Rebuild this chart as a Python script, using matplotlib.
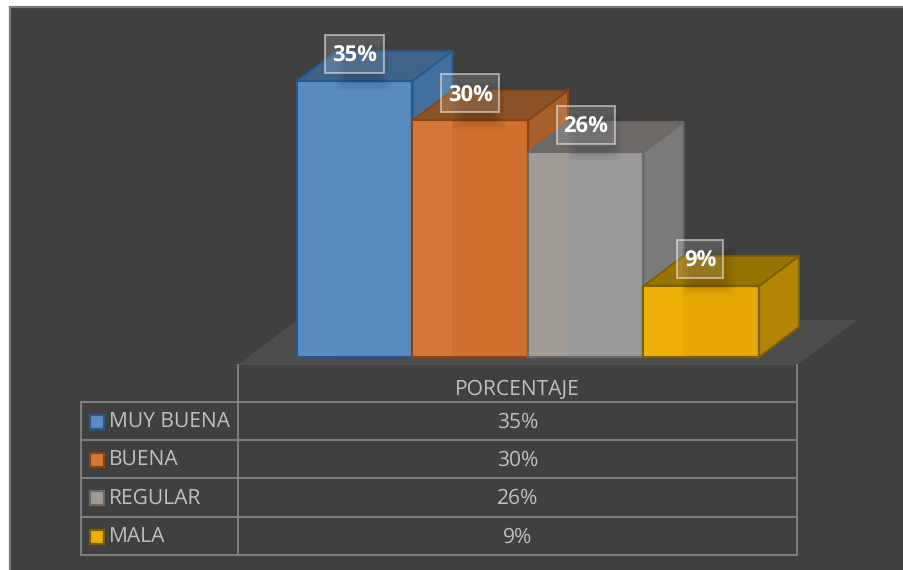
import matplotlib
matplotlib.use("Agg")
import matplotlib.pyplot as plt
from matplotlib.patches import Polygon, Rectangle

plt.rcParams['font.family'] = ['Open Sans', 'DejaVu Sans']
plt.rcParams['text.hinting'] = 'no_hinting'
plt.rcParams['text.hinting_factor'] = 1

categorias = ["MUY BUENA", "BUENA", "REGULAR", "MALA"]
valores = [35, 30, 26, 9]
serie = "PORCENTAJE"

frente = ["#588bbe", "#d0702f", "#999999", "#e6a905"]
claro = ["#5a8cbf", "#d3773a", "#a19b95", "#ecb008"]
lado = ["#41709f", "#a8602b", "#7a7a7a", "#b28507"]
arriba = ["#3e648a", "#8a5226", "#6d6a68", "#977404"]
borde = ["#28598c", "#8a4411", "#696969", "#7f6000"]

ANCHO, ALTO = 904, 570
BASE = 357
ESCALA = 7.886
X0 = 297
BARRA = 115.5
DX, DY = 40, 30

fig = plt.figure(figsize=(ANCHO / 100, ALTO / 100), dpi=100, facecolor="white")
ax = fig.add_axes([0, 0, 1, 1])
ax.set_xlim(0, ANCHO)
ax.set_ylim(ALTO, 0)
ax.axis("off")

# fondo oscuro
ax.add_patch(Rectangle((10, 7), ANCHO, ALTO, fc="#404040", ec="#7a7a7a", lw=1.6))

# suelo
ax.add_patch(Polygon([(238, 365), (797, 365), (857, 320), (297, 320)], fc="#4e4c4c", ec="none"))


def dibujar_barra(i, valor):
    x1 = X0 + i * BARRA
    x2 = x1 + BARRA
    arr = BASE - valor * ESCALA
    ec = borde[i]
    # caras de atras, se ven a traves del frente
    ax.add_patch(Polygon([(x2, BASE), (x2 + DX, BASE - DY), (x2 + DX, arr - DY), (x2, arr)],
                         fc=lado[i], ec=ec, lw=1.4, joinstyle="round", zorder=3))
    ax.add_patch(Polygon([(x1, arr), (x1 + DX, arr - DY), (x2 + DX, arr - DY), (x2, arr)],
                         fc=arriba[i], ec=ec, lw=1.4, joinstyle="round", zorder=3))
    ax.add_patch(Rectangle((x1, arr), BARRA, valor * ESCALA, fc=frente[i], ec=ec, lw=1.6, zorder=4))
    # parte izquierda un poco mas clara (transparencia del 3D)
    ax.add_patch(Rectangle((x1 + 1, arr + 1), DX - 1, valor * ESCALA - 2, fc=claro[i], ec="none", zorder=5))


for i, v in enumerate(valores):
    dibujar_barra(i, v)

# etiquetas con su caja y sombra suave
anchos_caja = [59, 58, 58, 46]
desvio_x = [0, 0, 0, -1]
for i, v in enumerate(valores):
    cx = X0 + (i + 0.5) * BARRA + desvio_x[i]
    cy = BASE - v * ESCALA - 27
    w = anchos_caja[i]
    for k in range(1, 8):
        ax.add_patch(Rectangle((cx - 20 + k * 1.5, cy - 12 + k), 58 - k * 3.5, 50 - k * 2.5,
                               fc="black", alpha=0.018, ec="none", zorder=6))
    ax.add_patch(Rectangle((cx - w / 2, cy - 19), w, 38, fc="#ffffff", alpha=0.14, ec="none", zorder=7))
    ax.add_patch(Rectangle((cx - w / 2, cy - 19), w, 38, fc="none", ec="#ffffff", alpha=0.5, lw=1.4, zorder=8))
    ax.text(cx, cy + 2.5, f"{v}%", color="white", fontsize=15.5, fontweight="bold",
            ha="center", va="center", zorder=9)

# tabla de datos
GRIS = "#7f7f7f"
TEXTO = "#bfbfbf"
filas_y = [402, 440, 478, 517, 555]
ax.plot([238, 238], [365, filas_y[-1]], color=GRIS, lw=1.4, zorder=2)
ax.plot([797, 797], [365, filas_y[-1]], color=GRIS, lw=1.4, zorder=2)
ax.plot([81, 81], [filas_y[0], filas_y[-1]], color=GRIS, lw=1.4, zorder=2)
for y in filas_y:
    ax.plot([81, 797], [y, y], color=GRIS, lw=1.4, zorder=2)

ax.text(517.5, 389.5, serie, color=TEXTO, fontsize=15.2, ha="center", va="center")
for i, (nombre, v) in enumerate(zip(categorias, valores)):
    y = (filas_y[i] + filas_y[i + 1]) / 2
    ax.add_patch(Rectangle((90, y - 6.5), 14, 14, fc=claro[i], ec=borde[i], lw=1.6))
    ax.text(109, y + 0.5, nombre, color=TEXTO, fontsize=15.2, ha="left", va="center")
    ax.text(517.5, y + 1, f"{v}%", color=TEXTO, fontsize=15.2, ha="center", va="center")

fig.savefig("out.png", dpi=100)
